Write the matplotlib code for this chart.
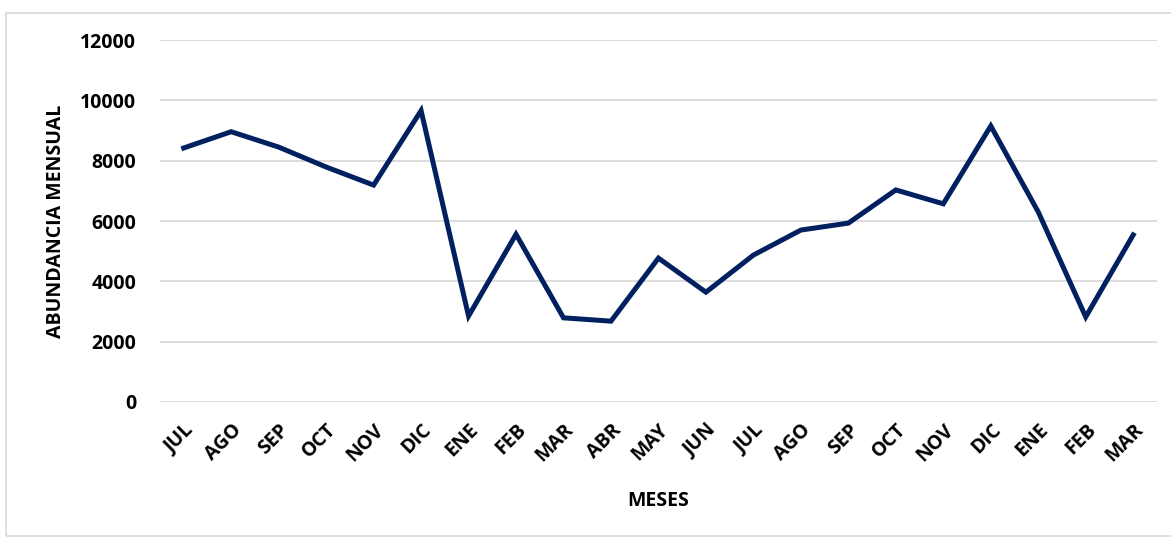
import matplotlib.pyplot as plt
from matplotlib.patches import Rectangle

meses = ['JUL', 'AGO', 'SEP', 'OCT', 'NOV', 'DIC', 'ENE', 'FEB', 'MAR', 'ABR', 'MAY',
         'JUN', 'JUL', 'AGO', 'SEP', 'OCT', 'NOV', 'DIC', 'ENE', 'FEB', 'MAR']
abundancia = [8420, 8960, 8450, 7790, 7190, 9660, 2850, 5560, 2790, 2680, 4770,
              3640, 4870, 5700, 5930, 7030, 6570, 9150, 6300, 2820, 5540]
y_ticks = [0, 2000, 4000, 6000, 8000, 10000, 12000]

plt.rcParams['font.family'] = ['Open Sans', 'DejaVu Sans']
plt.rcParams['font.weight'] = 'bold'
fs = 14

fig = plt.figure(figsize=(11.71, 5.37), dpi=100)
ax = fig.add_axes([0.1366, 0.2514, 0.8514, 0.6741])

x = list(range(len(meses)))
ax.plot(x, abundancia, color='#002060', linewidth=3.6, solid_joinstyle='miter')

ax.set_xlim(-0.5, len(meses) - 0.5)
ax.set_ylim(0, 12000)
ax.set_yticks(y_ticks)
ax.set_yticklabels([str(v) for v in y_ticks], fontsize=fs, fontweight='bold')
ax.set_xticks(x)
ax.set_xticklabels(meses, rotation=45, ha='right', rotation_mode='anchor',
                   fontsize=fs, fontweight='bold')
ax.tick_params(axis='y', length=0, pad=17)
ax.tick_params(axis='x', length=0, pad=13)
ax.grid(axis='y', color='#d9d9d9', linewidth=1.3)
ax.set_axisbelow(True)
for s in ax.spines.values():
    s.set_visible(False)

ax.set_ylabel('ABUNDANCIA MENSUAL', fontsize=fs, fontweight='bold', labelpad=10)
ax.set_xlabel('MESES', fontsize=fs, fontweight='bold', labelpad=18)

# marco del grafico
fig.patches.append(Rectangle((6 / 1171, 0.002), 1.0, 1 - 13 / 537 - 0.002,
                             transform=fig.transFigure, fill=False,
                             edgecolor='#d9d9d9', linewidth=1.2))

fig.savefig('out.png', dpi=100)
